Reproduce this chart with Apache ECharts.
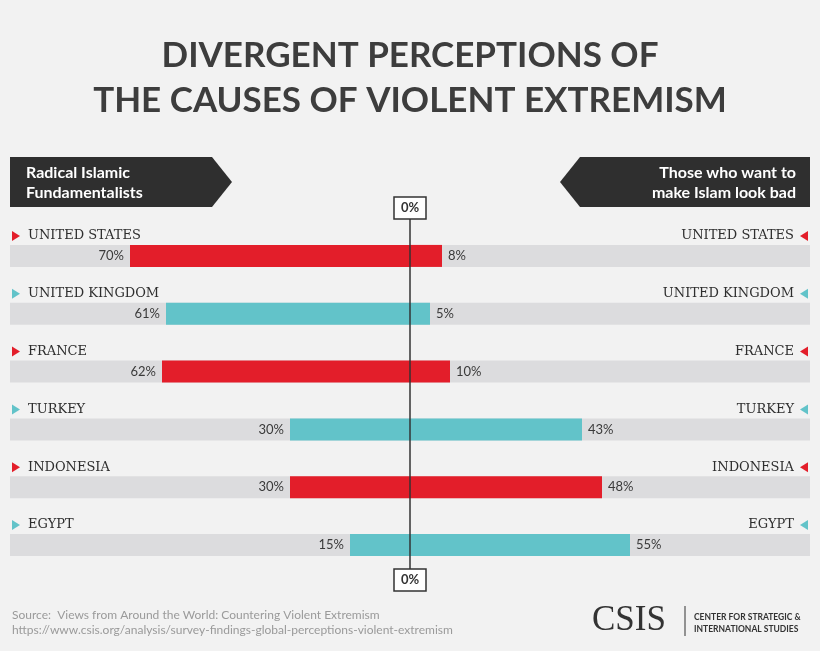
<!DOCTYPE html>
<html>
<head>
<meta charset="utf-8">
<script src="https://cdn.jsdelivr.net/npm/echarts@6/dist/echarts.min.js"></script>
<style>
  html, body { margin: 0; padding: 0; background: #f2f2f2; }
  #chart { width: 820px; height: 651px; }
</style>
</head>
<body>
<div id="chart"></div>
<script>
const countries = ['UNITED STATES', 'UNITED KINGDOM', 'FRANCE', 'TURKEY', 'INDONESIA', 'EGYPT'];
const radical = [70, 61, 62, 30, 30, 15];
const badImage = [8, 5, 10, 43, 48, 55];
const rowColors = ['#e31e2a', '#62c3c9', '#e31e2a', '#62c3c9', '#e31e2a', '#62c3c9'];

const TXT = '#3a3a3a';

const getOption = () => {
  return {
    backgroundColor: '#f2f2f2',
    animation: false,
    title: {
      text: 'DIVERGENT PERCEPTIONS OF\nTHE CAUSES OF VIOLENT EXTREMISM',
      left: 'center',
      top: 28,
      textStyle: {
        fontFamily: 'Lato', fontWeight: 'bold', fontSize: 35,
        color: '#3d3d3d', lineHeight: 45
      }
    },
    grid: { left: 10, right: 10, top: 227, height: 347 },
    xAxis: { type: 'value', min: -100, max: 100, show: false },
    yAxis: { type: 'category', data: countries, inverse: true, show: false },
    series: [
      {
        name: 'Radical Islamic Fundamentalists',
        type: 'bar',
        stack: 'all',
        barWidth: 22,
        data: radical.map((v, i) => ({ value: -v, itemStyle: { color: rowColors[i] } })),
        showBackground: true,
        backgroundStyle: { color: '#dcdcde' },
        label: {
          show: true, position: 'left', distance: 6,
          formatter: p => Math.abs(p.value) + '%',
          fontFamily: 'Lato', fontSize: 13, color: TXT
        }
      },
      {
        name: 'Those who want to make Islam look bad',
        type: 'bar',
        stack: 'all',
        barWidth: 22,
        data: badImage.map((v, i) => ({ value: v, itemStyle: { color: rowColors[i] } })),
        label: {
          show: true, position: 'right', distance: 6,
          formatter: p => p.value + '%',
          fontFamily: 'Lato', fontSize: 13, color: TXT
        }
      },
      {
        type: 'custom',
        data: countries.map((c, i) => [i]),
        z: 5,
        renderItem: (params, api) => {
          const i = api.value(0);
          const left = api.coord([-100, i]);
          const right = api.coord([100, i]);
          const y = left[1] - 20;
          const col = rowColors[i];
          return {
            type: 'group',
            children: [
              { type: 'polygon', shape: { points: [[12, y - 5], [20, y], [12, y + 5]] }, style: { fill: col } },
              { type: 'text', style: { text: countries[i], x: 28, y: y, textVerticalAlign: 'middle', fontFamily: 'DejaVu Serif', fontSize: 13, fill: '#2e2e2e' } },
              { type: 'polygon', shape: { points: [[right[0] - 2, y - 5], [right[0] - 10, y], [right[0] - 2, y + 5]] }, style: { fill: col } },
              { type: 'text', style: { text: countries[i], x: right[0] - 16, y: y, textAlign: 'right', textVerticalAlign: 'middle', fontFamily: 'DejaVu Serif', fontSize: 13, fill: '#2e2e2e' } }
            ]
          };
        }
      }
    ],
    graphic: [
      { type: 'polygon', shape: { points: [[10, 157], [212, 157], [232, 182], [212, 207], [10, 207]] }, style: { fill: '#2f2f2f' } },
      { type: 'text', left: 26, top: 163, style: { text: 'Radical Islamic\nFundamentalists', fontFamily: 'Lato', fontWeight: 'bold', fontSize: 16, lineHeight: 20, fill: '#fff' } },
      { type: 'polygon', shape: { points: [[560, 182], [580, 157], [810, 157], [810, 207], [580, 207]] }, style: { fill: '#2f2f2f' } },
      { type: 'text', right: 24, top: 163, style: { text: 'Those who want to\nmake Islam look bad', textAlign: 'right', fontFamily: 'Lato', fontWeight: 'bold', fontSize: 16, lineHeight: 20, fill: '#fff' } },
      { type: 'line', shape: { x1: 410, y1: 218, x2: 410, y2: 569 }, style: { stroke: '#333', lineWidth: 1.5 }, z: 10 },
      { type: 'rect', shape: { x: 394, y: 197, width: 32, height: 22 }, style: { fill: '#fff', stroke: '#333', lineWidth: 1.5 }, z: 10 },
      { type: 'text', x: 410, y: 208, style: { text: '0%', textAlign: 'center', textVerticalAlign: 'middle', fontFamily: 'Lato', fontWeight: 'bold', fontSize: 13, fill: '#333' }, z: 11 },
      { type: 'rect', shape: { x: 394, y: 569, width: 32, height: 22 }, style: { fill: '#fff', stroke: '#333', lineWidth: 1.5 }, z: 10 },
      { type: 'text', x: 410, y: 580, style: { text: '0%', textAlign: 'center', textVerticalAlign: 'middle', fontFamily: 'Lato', fontWeight: 'bold', fontSize: 13, fill: '#333' }, z: 11 },
      { type: 'text', left: 12, top: 608, style: { text: 'Source:  Views from Around the World: Countering Violent Extremism\nhttps://www.csis.org/analysis/survey-findings-global-perceptions-violent-extremism', fontFamily: 'Lato', fontSize: 12, lineHeight: 15, fill: '#9a9a9a' } },
      { type: 'text', left: 592, top: 603, style: { text: 'CSIS', fontFamily: 'Liberation Serif', fontSize: 35, fill: '#333' } },
      { type: 'line', shape: { x1: 685, y1: 606, x2: 685, y2: 636 }, style: { stroke: '#333', lineWidth: 1 } },
      { type: 'text', left: 694, top: 611, style: { text: 'CENTER FOR STRATEGIC &\nINTERNATIONAL STUDIES', fontFamily: 'Lato', fontWeight: 'bold', fontSize: 8.5, lineHeight: 12, fill: '#333' } }
    ]
  };
};

window.addEventListener('load', () => {
  const chart = echarts.init(document.getElementById('chart'));
  chart.setOption(getOption());
});
</script>
</body>
</html>
